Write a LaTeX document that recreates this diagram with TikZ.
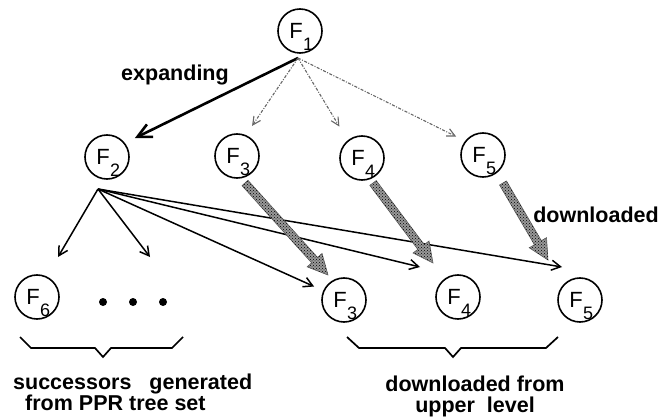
\documentclass[tikz,border=0pt]{standalone}
\usepackage{fontspec}
\setmainfont{Liberation Sans}
\usetikzlibrary{arrows.meta,calc,patterns}

% F with a large subscript hanging below its baseline
\newcommand{\Fs}[1]{\kern-8pt F\rlap{\kern0.5pt\smash{\raisebox{-11.5pt}{\fontsize{18}{18}\selectfont #1}}}}

% wide shaded "download" arrow from #1 to #2
\newcommand{\dlarrow}[2]{%
  \coordinate (#1h) at ($(#2)!20pt!(#1)$);
  \filldraw[dlfill]
    ($(#1)!4pt!90:(#2)$) -- ($(#1h)!4pt!90:(#2)$) -- ($(#1h)!10pt!90:(#2)$) --
    (#2) --
    ($(#1h)!10pt!-90:(#2)$) -- ($(#1h)!4pt!-90:(#2)$) -- ($(#1)!4pt!-90:(#2)$) -- cycle;
}

\begin{document}
\begin{tikzpicture}[x=1pt,y=-1pt,
  fnode/.style={circle,draw,line width=1.6pt,minimum size=44pt,inner sep=0pt,
                font=\fontsize{22}{22}\selectfont},
  lbl/.style={font=\bfseries\fontsize{21.5}{21}\selectfont,inner sep=0pt},
  expand/.style={line width=2.6pt,-{Straight Barb[length=14pt,width=14pt]}},
  hint/.style={draw=black!60,line width=1.1pt,dash pattern=on 3pt off 1.5pt on 1pt off 1.5pt,
               -{Straight Barb[length=8pt,width=8pt]}},
  child/.style={line width=1.5pt,-{Straight Barb[length=9pt,width=10pt]}},
  dlfill/.style={draw=black!65,line width=0.6pt,fill=black!40,
                 postaction={pattern=crosshatch dots,pattern color=black}},
  bracestroke/.style={line width=1.7pt,line join=miter}]

\useasboundingbox (0,0) rectangle (662,417);

% tree nodes
\node[fnode] (f1) at (300,31) {\Fs{1}};
\node[fnode] (f2) at (107,157) {\Fs{2}};
\node[fnode] (f3) at (237,156) {\Fs{3}};
\node[fnode] (f4) at (362,158) {\Fs{4}};
\node[fnode] (f5) at (483,155) {\Fs{5}};
\node[fnode] (f6) at (37,297) {\Fs{6}};
\node[fnode] (f3b) at (344,300) {\Fs{3}};
\node[fnode] (f4b) at (458,297) {\Fs{4}};
\node[fnode] (f5b) at (580,300) {\Fs{5}};

% ellipsis after F6
\foreach \x in {103,133,163}
  \fill (\x,302) circle[radius=4pt];

% fan-out points
\coordinate (f1o) at (298,58);
\coordinate (f2o) at (98,189);
\coordinate (c1) at (58,257);
\coordinate (c2) at (150,257);
\coordinate (c4) at (420,267);
\coordinate (c5) at (562,267);

% expansion of F1
\draw[expand,shorten >=11pt] (f1o) -- (f2.38);
\draw[hint,shorten >=11pt] (f1o) -- (f3.67);
\draw[hint,shorten >=16pt] (f1o) -- (f4.129);
\draw[hint,shorten >=10pt] (f1o) -- (f5.142);
\node[lbl] (expl) at (175,75) {expanding};

% successors of F2
\draw[child] (f2o) -- (c1);
\draw[child] (f2o) -- (c2);
\draw[child,shorten >=10pt] (f2o) -- (f3b);
\draw[child] (f2o) -- (c4);
\draw[child] (f2o) -- (c5);

% downloaded copies
\coordinate (d3s) at (245,183); \coordinate (d3t) at (328,275);
\coordinate (d4s) at (373,183); \coordinate (d4t) at (433,263);
\coordinate (d5s) at (503,183); \coordinate (d5t) at (548,260);
\dlarrow{d3s}{d3t}
\dlarrow{d4s}{d4t}
\dlarrow{d5s}{d5t}
\node[lbl] (dll) at (596,215) {downloaded};

% braces
\draw[bracestroke] (20,337) -- (31,348) -- (95,348) -- (103,357) -- (111,348) -- (172,348) -- (183,337);
\draw[bracestroke] (347,337) -- (359,348) -- (445,348) -- (453,357) -- (461,348) -- (546,348) -- (558,337);

% captions
\node[lbl,anchor=north west,align=left] (cap1) at (13,374)
  {successors\ \ \ generated\\\kern12pt from PPR tree set};
\node[lbl,anchor=north,align=center] (cap2) at (475,376)
  {downloaded from\\upper\ \ level};
\end{tikzpicture}
\end{document}
